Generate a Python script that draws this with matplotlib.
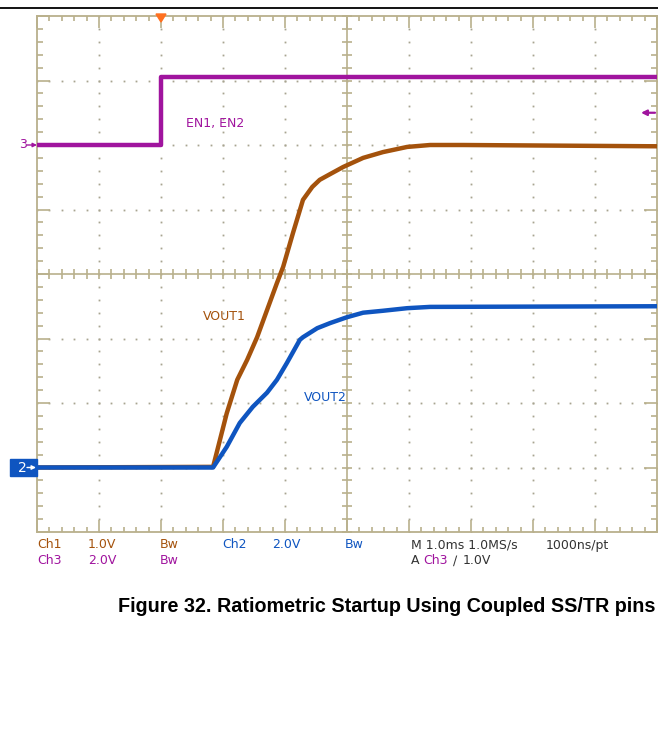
import numpy as np
import matplotlib
matplotlib.use("Agg")
import matplotlib.pyplot as plt
from matplotlib.lines import Line2D
from matplotlib.patches import Rectangle, Polygon

# time axis in ms from the left edge of the screen (1.0 ms/div)
en_time = [0.0, 2.0, 2.0, 10.0]
en_volts = [0.0, 0.0, 2.1, 2.1]

vout1_time = [0.0, 2.84, 3.06, 3.23, 3.39, 3.55, 3.71, 3.87, 3.97, 4.13, 4.29,
              4.44, 4.56, 4.73, 4.94, 5.26, 5.58, 5.97, 6.34, 6.87, 10.0]
vout1_volts = [0.0, 0.01, 0.84, 1.36, 1.67, 2.02, 2.44, 2.86, 3.11, 3.64, 4.15,
               4.35, 4.46, 4.55, 4.66, 4.80, 4.89, 4.97, 5.0, 5.0, 4.98]

vout2_time = [0.0, 2.84, 3.06, 3.27, 3.48, 3.71, 3.87, 4.03, 4.24, 4.29, 4.52,
              4.73, 5.0, 5.26, 5.58, 5.97, 6.34, 10.0]
vout2_volts = [0.0, 0.0, 0.64, 1.38, 1.88, 2.32, 2.72, 3.24, 3.96, 4.04, 4.32,
               4.48, 4.66, 4.80, 4.86, 4.94, 4.98, 5.0]

# channel settings: (volts per div, reference position in div)
ch1_scale, ch1_ref = 1.0, -3.0
ch2_scale, ch2_ref = 2.0, -3.0
ch3_scale, ch3_ref = 2.0, 2.0
trigger_level = 1.0
trigger_time = 2.0

BROWN = "#a4520c"
BLUE = "#0f55c0"
PURPLE = "#a0149e"
FRAME = "#b9b08c"
DOTS = "#a8a490"
NARROW = ["Liberation Sans Narrow", "DejaVu Sans Condensed", "DejaVu Sans"]

W, H = 658, 746
L, R, T, B = 37, 657, 16, 532

fig = plt.figure(figsize=(W / 100, H / 100), dpi=100)
fig.patch.set_facecolor("white")
ax = fig.add_axes([L / W, (H - B) / H, (R - L) / W, (B - T) / H])
ax.set_xlim(0, 10)
ax.set_ylim(-4, 4)
ax.set_xticks([])
ax.set_yticks([])
for spine in ax.spines.values():
    spine.set_color(FRAME)
    spine.set_linewidth(1.3)

px_x = 10 / (R - L)
px_y = 8 / (B - T)


def seg(x0, x1, y0, y1):
    ax.plot([x0, x1], [y0, y1], color=FRAME, lw=1.2, solid_capstyle="butt",
            zorder=1, clip_on=False)


def arrow(x0, x1, y, color, lw=1.2, size=7, z=6):
    ax.annotate("", xy=(x1, y), xytext=(x0, y),
                arrowprops=dict(arrowstyle="-|>", color=color, lw=lw,
                                mutation_scale=size, shrinkA=0, shrinkB=0),
                annotation_clip=False, zorder=z)


# dotted graticule
fine_x = np.round(np.arange(0, 10.001, 0.2), 3)
fine_y = np.round(np.arange(-4, 4.001, 0.2), 3)
for gx in range(1, 10):
    if gx == 5:
        continue
    ax.plot(np.full_like(fine_y, gx), fine_y, ls="none", marker="s", ms=1.3,
            color=DOTS, mew=0, zorder=1)
for gy in range(-3, 4):
    if gy == 0:
        continue
    ax.plot(fine_x, np.full_like(fine_x, gy), ls="none", marker="s", ms=1.3,
            color=DOTS, mew=0, zorder=1)

# centre cross
ax.axvline(5, color=FRAME, lw=1.2, zorder=1)
ax.axhline(0, color=FRAME, lw=1.2, zorder=1)
for x in fine_x:
    seg(x, x, -5 * px_y, 5 * px_y)
for y in fine_y:
    seg(5 - 5 * px_x, 5 + 5 * px_x, y, y)

# border ticks
for x in fine_x:
    n = 12 if abs(x - round(x)) < 1e-6 else 5
    seg(x, x, 4, 4 - n * px_y)
    seg(x, x, -4, -4 + n * px_y)
for y in fine_y:
    n = 13 if abs(y - round(y)) < 1e-6 else 6
    seg(0, n * px_x, y, y)
    seg(10, 10 - n * px_x, y, y)

# traces
en_div = [v / ch3_scale + ch3_ref for v in en_volts]
v1_div = [v / ch1_scale + ch1_ref for v in vout1_volts]
v2_div = [v / ch2_scale + ch2_ref for v in vout2_volts]
ax.plot(en_time, en_div, color=PURPLE, lw=3.2, zorder=3)
ax.plot(vout1_time, v1_div, color=BROWN, lw=3.2, zorder=3)
ax.plot(vout2_time, v2_div, color=BLUE, lw=3.2, zorder=4)

# trace labels
ax.text(2.4, 2.33, "EN1, EN2", color=PURPLE, fontsize=9, family=NARROW,
        va="center", ha="left")
ax.text(2.68, -0.66, "VOUT1", color=BROWN, fontsize=9, family=NARROW,
        va="center", ha="left")
ax.text(4.31, -1.92, "VOUT2", color=BLUE, fontsize=9, family=NARROW,
        va="center", ha="left")

# trigger marker on top
tri_x = trigger_time
ax.add_patch(Polygon([[tri_x - 5 * px_x, 4 + 2 * px_y], [tri_x + 5 * px_x, 4 + 2 * px_y],
                      [tri_x, 4 - 6 * px_y]], closed=True, color="#ff7020",
                     clip_on=False, zorder=6))

# trigger level arrow on right
lvl = trigger_level / ch3_scale + ch3_ref
arrow(10 - 2 * px_x, 10 - 16 * px_x, lvl, PURPLE, lw=1.6, size=8)

# channel reference markers on left
ax.text(-18 * px_x, ch3_ref, "3", color=PURPLE, fontsize=9, family=NARROW,
        ha="left", va="center")
arrow(-10 * px_x, 0, ch3_ref, PURPLE, lw=1.0, size=6)
ax.add_patch(Rectangle((-27 * px_x, ch2_ref - 8 * px_y), 27 * px_x, 17 * px_y,
                       color=BLUE, clip_on=False, zorder=5))
ax.text(-19 * px_x, ch2_ref, "2", color="white", fontsize=10, family=NARROW,
        ha="left", va="center", zorder=6)
arrow(-10 * px_x, -1 * px_x, ch2_ref, "white", lw=1.0, size=6, z=7)

# readout text
row1 = 1 - 545 / H
row2 = 1 - 561 / H
readout = [
    (37, row1, "Ch1", BROWN), (88, row1, "1.0V", BROWN), (160, row1, "Bw", BROWN),
    (222, row1, "Ch2", BLUE), (272, row1, "2.0V", BLUE), (345, row1, "Bw", BLUE),
    (411, row1, "M 1.0ms 1.0MS/s", "#333333"), (546, row1, "1000ns/pt", "#333333"),
    (37, row2, "Ch3", PURPLE), (88, row2, "2.0V", PURPLE), (160, row2, "Bw", PURPLE),
    (411, row2, "A", "#333333"), (423, row2, "Ch3", PURPLE),
    (453, row2, "\u2215", "#333333"), (463, row2, "1.0V", "#333333"),
]
for x, y, s, c in readout:
    fig.text(x / W, y, s, color=c, fontsize=9, family=NARROW, ha="left",
             va="center")

# top rule and caption
fig.add_artist(Line2D([0, 1], [1 - 8 / H, 1 - 8 / H], color="black", lw=1.3,
                      transform=fig.transFigure))
fig.text(655 / W, 1 - 607 / H,
         "Figure 32. Ratiometric Startup Using Coupled SS/TR pins",
         fontsize=14.2, fontweight="bold", family=["Liberation Sans", "DejaVu Sans"],
         ha="right", va="center")

fig.savefig("out.png", dpi=100)
